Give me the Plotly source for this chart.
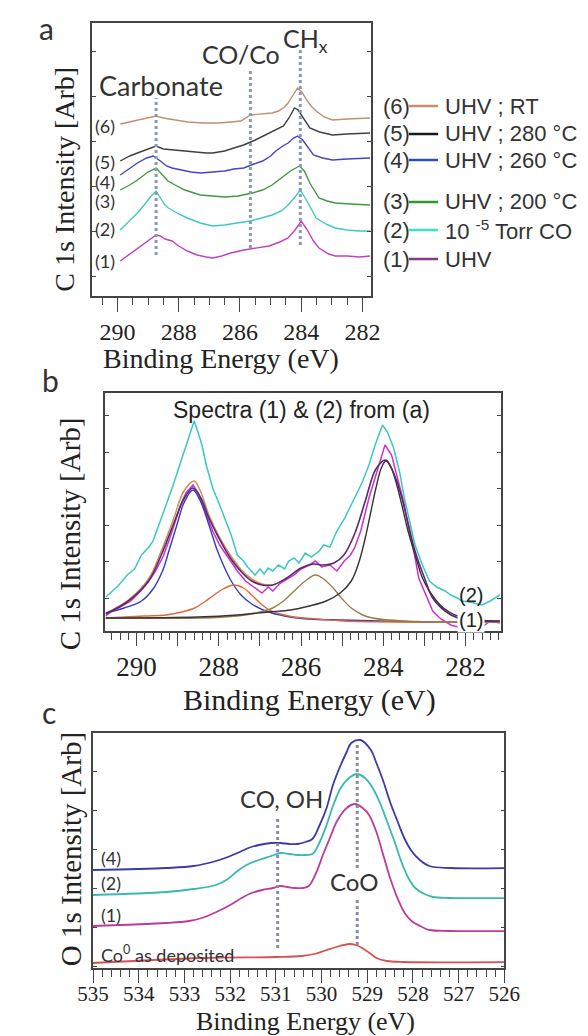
import plotly.graph_objects as go

W, H = 588, 1036
def px(x): return x / W
def py(y): return 1 - y / H

SERIF = "Liberation Serif, Times New Roman, serif"
SANS = "Lato"
ARIAL = "Liberation Sans"

# ---------------- Panel a : C 1s spectra (binding energy eV, intensity arb) -------------
a_E1 = [289.91, 289.6, 289.35, 289.1, 288.9, 288.74, 288.6, 288.45, 288.22, 288.0, 287.72, 287.4, 287.1, 286.89, 286.6, 286.3, 285.88, 285.5, 285.05, 284.7, 284.43, 284.2, 284.0, 283.8, 283.6, 283.42, 283.1, 282.89, 282.5, 282.1, 281.75]
a_I1 = [35, 42, 48, 53, 58, 61, 60, 57, 55, 50, 45, 41, 39, 38, 40, 43, 46, 48, 50, 54, 58, 66, 75, 66, 55, 48, 42, 40, 40, 39, 40]
a_E2 = [289.91, 289.6, 289.35, 289.1, 288.9, 288.74, 288.6, 288.45, 288.34, 288.0, 287.72, 287.3, 286.89, 286.5, 286.1, 285.66, 285.3, 284.95, 284.65, 284.43, 284.2, 284.03, 283.85, 283.7, 283.51, 283.2, 282.89, 282.5, 282.1, 281.75]
a_I2 = [66, 75, 83, 92, 100, 105, 98, 91, 88, 82, 78, 73, 70, 71, 73, 75, 78, 81, 85, 91, 99, 106, 97, 88, 78, 72, 68, 66, 65, 65]
a_E3 = [289.91, 289.6, 289.35, 289.0, 288.74, 288.55, 288.35, 288.12, 287.8, 287.5, 287.29, 286.9, 286.5, 286.06, 285.6, 285.26, 284.95, 284.65, 284.35, 284.06, 283.9, 283.7, 283.42, 283.15, 282.89, 282.4, 281.75]
a_I3 = [106, 111, 116, 124, 128, 122, 115, 111, 106, 103, 101, 100, 99, 100, 103, 106, 111, 118, 125, 130, 125, 112, 98, 95, 93, 92, 91]
a_E4 = [289.91, 289.6, 289.35, 289.05, 288.83, 288.6, 288.4, 288.22, 287.9, 287.6, 287.29, 286.9, 286.5, 286.2, 285.88, 285.55, 285.26, 285.0, 284.83, 284.6, 284.43, 284.25, 284.12, 283.95, 283.82, 283.6, 283.3, 282.98, 282.5, 281.75]
a_I4 = [121, 128, 133, 138, 140, 135, 130, 128, 126, 124, 123, 124, 125, 127, 128, 132, 135, 140, 145, 150, 153, 158, 160, 156, 150, 141, 138, 136, 137, 138]
a_E5 = [289.91, 289.6, 289.35, 289.0, 288.74, 288.5, 288.2, 287.91, 287.5, 287.1, 286.89, 286.5, 286.2, 285.88, 285.5, 285.05, 284.8, 284.58, 284.4, 284.22, 284.1, 283.97, 283.85, 283.72, 283.4, 282.98, 282.5, 281.75]
a_I5 = [135, 140, 143, 147, 150, 147, 146, 145, 144, 143, 143, 145, 148, 151, 156, 163, 167, 170, 178, 188, 186, 180, 174, 168, 164, 161, 162, 163]
a_E6 = [289.91, 289.6, 289.35, 289.0, 288.74, 288.5, 288.12, 287.7, 287.2, 286.7, 286.3, 285.97, 285.66, 285.3, 284.95, 284.74, 284.55, 284.43, 284.25, 284.12, 283.98, 283.82, 283.65, 283.51, 283.25, 282.98, 282.5, 281.75]
a_I6 = [172, 174, 176, 178, 180, 178, 176, 174, 173, 173, 174, 175, 181, 182, 183, 185, 189, 193, 202, 208, 204, 196, 189, 185, 179, 176, 177, 178]

a_series = [
    ("(1)", "UHV", a_E1, a_I1, "#c040c0", "#8a3a80"),
    ("(2)", "10 <sup>-5</sup> Torr CO", a_E2, a_I2, "#40c8c0", "#3ee0c8"),
    ("(3)", "UHV ; 200 °C", a_E3, a_I3, "#409840", "#2e9a2e"),
    ("(4)", "UHV ; 260 °C", a_E4, a_I4, "#4444c4", "#2e4fb0"),
    ("(5)", "UHV ; 280 °C", a_E5, a_I5, "#404040", "#1a1a1a"),
    ("(6)", "UHV ; RT", a_E6, a_I6, "#c09070", "#c8906a"),
]
a_label_y = [253, 221, 193, 174, 154, 118]     # pixel rows of (n) labels
a_legend_y = [251, 222, 194, 152, 126, 98]     # pixel rows of legend entries

a_mark_E = [288.74, 285.66, 284.03]
a_mark_top = [198, 225, 248]
a_mark_bot = [41, 48, 51]

# ---------------- Panel b : fit of spectra (1) & (2) -------------
b_E2 = [290.75, 290.6, 290.45, 290.23, 290.05, 289.88, 289.7, 289.6, 289.45, 289.3, 289.11, 288.95, 288.8, 288.7, 288.6, 288.5, 288.41, 288.3, 288.15, 288.0, 287.89, 287.7, 287.55, 287.4, 287.3, 287.12, 287.0, 286.9, 286.8, 286.69, 286.55, 286.4, 286.3, 286.17, 286.05, 285.9, 285.75, 285.56, 285.45, 285.3, 285.13, 284.95, 284.7, 284.5, 284.35, 284.2, 284.02, 283.9, 283.75, 283.6, 283.49, 283.35, 283.23, 283.05, 282.88, 282.7, 282.5, 282.36, 282.2, 282.1, 281.9, 281.6, 281.4, 281.17]
b_I2 = [34, 40, 45, 56, 62, 76, 84, 90, 106, 124, 146, 166, 183, 196, 210, 198, 186, 165, 143, 128, 116, 96, 76, 70, 64, 56, 62, 57, 63, 60, 66, 62, 70, 73, 68, 78, 74, 80, 86, 84, 100, 112, 133, 150, 166, 186, 206, 199, 183, 158, 133, 108, 86, 66, 50, 44, 40, 36, 33, 30, 29, 26, 30, 36]
b_E1 = [290.75, 290.6, 290.4, 290.14, 289.9, 289.7, 289.54, 289.35, 289.19, 289.05, 288.93, 288.8, 288.63, 288.5, 288.33, 288.15, 287.98, 287.75, 287.55, 287.35, 287.12, 286.95, 286.8, 286.69, 286.5, 286.35, 286.17, 286.0, 285.8, 285.65, 285.5, 285.3, 285.13, 284.95, 284.8, 284.7, 284.55, 284.35, 284.15, 283.96, 283.8, 283.66, 283.5, 283.4, 283.25, 283.14, 282.95, 282.8, 282.6, 282.36, 282.1, 281.9, 281.6, 281.4, 281.17]
b_I1 = [15, 20, 24, 30, 40, 50, 60, 75, 93, 110, 126, 138, 146, 138, 120, 100, 86, 72, 60, 50, 43, 38, 44, 40, 48, 52, 56, 62, 66, 70, 64, 66, 60, 70, 76, 83, 100, 133, 160, 186, 176, 153, 128, 106, 78, 53, 34, 20, 12, 6, 3, 8, 4, 10, 8]
b_Etot = [290.75, 290.2, 289.71, 289.4, 289.11, 288.85, 288.63, 288.45, 288.24, 288.0, 287.72, 287.45, 287.2, 286.95, 286.69, 286.35, 286.0, 285.7, 285.47, 285.2, 284.96, 284.7, 284.44, 284.18, 283.94, 283.75, 283.57, 283.4, 283.23, 283.0, 282.8, 282.5, 282.19, 281.7, 281.17]
b_Itot = [17, 30, 50, 76, 106, 132, 143, 134, 113, 93, 73, 59, 50, 46, 46, 53, 63, 67, 66, 68, 76, 97, 130, 162, 171, 158, 136, 108, 80, 53, 33, 20, 13, 10, 10]
b_Etan = [290.75, 290.2, 289.71, 289.4, 289.11, 288.85, 288.6, 288.45, 288.24, 288.0, 287.72, 287.45, 287.2, 286.95, 286.69]
b_Itan = [18, 31, 52, 80, 111, 140, 150, 140, 116, 95, 76, 61, 52, 47, 46]
b_Eblue = [290.75, 290.3, 289.88, 289.6, 289.37, 289.2, 289.02, 288.85, 288.63, 288.45, 288.24, 288.05, 287.89, 287.7, 287.46, 287.2, 286.86, 286.4, 285.82, 285.0, 284.09, 283.0, 281.17]
b_Iblue = [18, 23, 30, 42, 60, 82, 106, 128, 141, 130, 106, 82, 66, 50, 36, 27, 20, 15, 12, 11, 10, 9, 9]
b_Eorg = [290.75, 289.8, 289.28, 288.9, 288.59, 288.35, 288.15, 287.9, 287.64, 287.4, 287.2, 287.0, 286.77, 286.5, 286.17, 285.6, 284.96, 283.5, 281.17]
b_Iorg = [13, 15, 16, 19, 23, 29, 35, 42, 46, 43, 36, 28, 21, 17, 14, 12, 10, 9, 9]
b_Eolv = [290.75, 288.5, 287.55, 287.1, 286.69, 286.4, 286.17, 285.9, 285.65, 285.45, 285.22, 285.0, 284.78, 284.5, 284.26, 283.5, 281.17]
b_Iolv = [13, 13, 15, 18, 23, 31, 40, 50, 56, 52, 43, 32, 23, 16, 13, 10, 9]
b_Ech = [290.75, 288.5, 287.55, 286.8, 286.25, 285.8, 285.39, 285.05, 284.78, 284.6, 284.44, 284.3, 284.18, 284.05, 283.94, 283.82, 283.7, 283.55, 283.4, 283.22, 283.05, 282.85, 282.62, 282.4, 282.19, 281.7, 281.17]
b_Ich = [13, 14, 16, 19, 21, 25, 30, 38, 50, 68, 93, 120, 143, 163, 170, 164, 150, 126, 100, 75, 53, 38, 26, 19, 15, 11, 10]

# ---------------- Panel c : O 1s spectra -------------
c_E4 = [535.0, 533.4, 532.8, 532.31, 532.05, 531.84, 531.6, 531.37, 531.1, 530.9, 530.7, 530.52, 530.35, 530.2, 530.05, 529.89, 529.75, 529.58, 529.45, 529.35, 529.15, 528.92, 528.8, 528.65, 528.5, 528.34, 528.18, 528.03, 527.85, 527.64, 527.17, 525.88]
c_I4 = [98, 100, 102, 107, 111, 115, 120, 123, 125, 125, 124, 124, 126, 129, 142, 160, 183, 203, 216, 225, 228, 218, 205, 187, 166, 147, 129, 117, 108, 102, 100, 100]
c_E2 = [535.0, 533.4, 532.8, 532.31, 532.05, 531.84, 531.6, 531.37, 531.1, 530.9, 530.7, 530.52, 530.35, 530.2, 530.05, 529.89, 529.75, 529.58, 529.4, 529.23, 529.05, 528.88, 528.72, 528.57, 528.4, 528.26, 528.1, 527.95, 527.75, 527.56, 527.2, 525.88]
c_I2 = [73, 76, 79, 83, 89, 97, 104, 108, 112, 115, 114, 113, 113, 114, 125, 143, 162, 180, 190, 194, 190, 180, 165, 147, 126, 107, 90, 80, 74, 71, 70, 70]
c_E1 = [535.0, 533.4, 532.9, 532.62, 532.3, 532.0, 531.75, 531.53, 531.3, 531.06, 530.9, 530.75, 530.59, 530.4, 530.28, 530.12, 529.97, 529.8, 529.66, 529.45, 529.27, 529.1, 528.96, 528.8, 528.65, 528.5, 528.34, 528.18, 528.03, 527.8, 527.64, 527.2, 525.88]
c_I1 = [42, 45, 47, 50, 56, 63, 70, 75, 78, 80, 82, 81, 80, 80, 82, 95, 113, 132, 147, 160, 164, 160, 153, 136, 113, 90, 70, 55, 47, 41, 38, 37, 37]
c_E0 = [535.0, 532.62, 531.0, 530.44, 530.15, 529.89, 529.6, 529.39, 529.25, 529.11, 528.95, 528.8, 528.57, 528.2, 525.88]
c_I0 = [5, 10, 11, 12, 14, 18, 22, 24, 23, 20, 15, 10, 7, 6, 6]
c_mark_E = [530.96, 529.22, 529.22]
c_mark_top = [152, 223, 70]
c_mark_bot = [20, 100, 23]

fig = go.Figure()

# panel a traces
for lab, name, E, I, col, lcol in a_series:
    fig.add_trace(go.Scatter(x=E, y=I, mode="lines", line=dict(color=col, width=1.4),
                             xaxis="x", yaxis="y", showlegend=False))
for E, t, b in zip(a_mark_E, a_mark_top, a_mark_bot):
    fig.add_trace(go.Scatter(x=[E, E], y=[b, t], mode="lines",
                             line=dict(color="#8a98b4", width=3, dash="dot"),
                             xaxis="x", yaxis="y", showlegend=False))

# panel b traces
b_traces = [
    (b_E2, b_I2, "#3cc8c0", 1.5, "linear"),
    (b_E1, b_I1, "#d030d0", 1.5, "linear"),
    (b_Etan, b_Itan, "#c8945a", 1.5, "spline"),
    (b_Eblue, b_Iblue, "#3838c8", 1.4, "spline"),
    (b_Eorg, b_Iorg, "#e06838", 1.4, "spline"),
    (b_Eolv, b_Iolv, "#9a7d48", 1.4, "spline"),
    (b_Ech, b_Ich, "#3a303a", 1.4, "spline"),
    (b_Etot, b_Itot, "#5a2a6a", 1.6, "spline"),
]
for E, I, col, w, shp in b_traces:
    fig.add_trace(go.Scatter(x=E, y=I, mode="lines", line=dict(color=col, width=w, shape=shp),
                             xaxis="x2", yaxis="y2", showlegend=False))

# panel c traces
c_traces = [
    (c_E0, c_I0, "#d85050"),
    (c_E1, c_I1, "#c03a9a"),
    (c_E2, c_I2, "#3ab8b0"),
    (c_E4, c_I4, "#3a3aa8"),
]
for E, I, col in c_traces:
    fig.add_trace(go.Scatter(x=E, y=I, mode="lines", line=dict(color=col, width=1.8, shape="spline"),
                             xaxis="x3", yaxis="y3", showlegend=False))
for E, t, b in zip(c_mark_E, c_mark_top, c_mark_bot):
    fig.add_trace(go.Scatter(x=[E, E], y=[b, t], mode="lines",
                             line=dict(color="#8a8aa0", width=3, dash="dot"),
                             xaxis="x3", yaxis="y3", showlegend=False))

axcol = "#444444"
def xax(domain, anchor, rng, tickvals, ticktext, minor_dtick, tsize, tlen, standoff):
    return dict(domain=domain, anchor=anchor, range=rng, showline=True, linecolor=axcol, linewidth=1.5,
                mirror=True, ticks="outside", ticklen=tlen, tickwidth=1.3, tickcolor=axcol,
                tickmode="array", tickvals=tickvals, ticktext=ticktext, ticklabelstandoff=standoff,
                minor=dict(tickmode="linear", tick0=0, dtick=minor_dtick, ticklen=7, tickwidth=1.1,
                           tickcolor=axcol, ticks="outside"),
                tickfont=dict(family=SERIF, size=tsize, color="#222"),
                showgrid=False, zeroline=False)

def yax(domain, anchor, rng, tick0, dtick):
    return dict(domain=domain, anchor=anchor, range=rng, showline=True, linecolor=axcol, linewidth=1.5,
                mirror="ticks", ticks="inside", ticklen=4, tickcolor=axcol, tickmode="linear",
                tick0=tick0, dtick=dtick, showticklabels=False, showgrid=False, zeroline=False)

fig.update_layout(
    width=W, height=H, margin=dict(l=0, r=0, t=0, b=0),
    font=dict(family=SERIF, color="#222"),
    paper_bgcolor="white", plot_bgcolor="white", showlegend=False,
    xaxis=xax([px(72), px(367)], "y", [290.83, 281.72], [290, 288, 286, 284, 282],
              ["290", "288", "286", "284", "282"], 0.5, 24, 14, -1),
    yaxis=yax([py(288), py(15)], "x", [0, 273], 20, 45),
    xaxis2=xax([px(86), px(504)], "y2", [290.76, 281.15], list(range(282, 291)),
               ["282", " ", "284", " ", "286", " ", "288", " ", "290"], 0.2, 27, 13, -2),
    yaxis2=yax([py(623), py(385)], "x2", [0, 238], 33, 36.5),
    xaxis3=xax([px(73), px(508)], "y3", [535, 526], list(range(526, 536)),
               [str(v) for v in range(526, 536)], 0.2, 21, 13, -7),
    yaxis3=yax([py(960), py(725)], "x3", [0, 235], 80, 39),
)

ann = []
def txt(x, y, s, size, family=SANS, xanchor="center", color="#333", angle=0, bg=None):
    d = dict(x=px(x), y=py(y), xref="paper", yref="paper", text=s, showarrow=False,
             xanchor=xanchor, yanchor="middle", textangle=angle,
             font=dict(family=family, size=size, color=color))
    if bg:
        d["bgcolor"] = bg
    ann.append(d)

# panel letters
txt(24, 20, "a", 30)
txt(28, 372, "b", 30)
txt(26, 704, "c", 30)

# axis titles
txt(208, 350, "Binding Energy (eV)", 28, SERIF, color="#222")
txt(43, 171, "C 1s Intensity [Arb]", 28, SERIF, color="#222", angle=-90)
txt(302, 692, "Binding Energy (eV)", 30, SERIF, color="#222")
txt(49, 526, "C 1s Intensity [Arb]", 29, SERIF, color="#222", angle=-90)
txt(298, 1013, "Binding Energy (eV)", 26, SERIF, color="#222")
txt(50, 841, "O 1s Intensity [Arb]", 29, SERIF, color="#222", angle=-90)

# panel a annotations
txt(77, 77, "Carbonate", 27, xanchor="left")
txt(229, 46, "CO/Co", 25)
txt(272, 32, "CH<sub>x</sub>", 25, xanchor="left")
for (lab, name, E, I, col, lcol), yl, yg in zip(a_series, a_label_y, a_legend_y):
    txt(73, yl, lab, 18, xanchor="left")
    txt(378, yg, lab, 22, ARIAL, xanchor="left")
    txt(443, yg, name, 22, ARIAL, xanchor="left")
fig.update_layout(shapes=[dict(type="line", xref="paper", yref="paper", x0=px(407), x1=px(438),
                               y0=py(yg), y1=py(yg), line=dict(color=s[5], width=2.5))
                          for s, yg in zip(a_series, a_legend_y)])

# panel b annotations
txt(293, 402, "Spectra (1) &amp; (2) from (a)", 23, ARIAL, color="#222")
txt(473, 587, "(2)", 20, ARIAL, color="#222")
txt(473, 612, "(1)", 20, ARIAL, color="#222", bg="white")

# panel c annotations
txt(272, 790, "CO, OH", 24)
txt(349, 873, "CoO", 24)
txt(79, 850, "(4)", 18, xanchor="left")
txt(79, 875, "(2)", 18, xanchor="left")
txt(79, 907, "(1)", 18, xanchor="left")
txt(79, 946, "Co<sup>0</sup> as deposited", 18, xanchor="left")

fig.update_layout(annotations=ann)
fig.write_html("out.html")
